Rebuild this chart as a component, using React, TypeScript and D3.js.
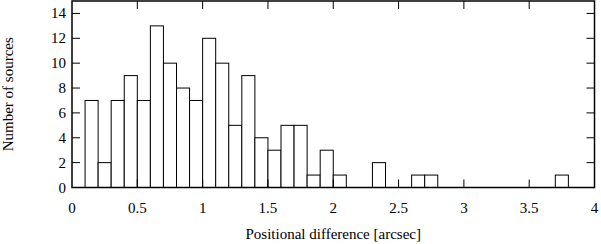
import React, { useEffect, useRef } from "react";
import * as d3 from "d3";

// histogram bins (lower edge, width 0.1 arcsec) and counts
const binStarts = [
  0.1, 0.2, 0.3, 0.4, 0.5, 0.6, 0.7, 0.8, 0.9, 1.0,
  1.1, 1.2, 1.3, 1.4, 1.5, 1.6, 1.7, 1.8, 1.9, 2.0,
  2.3, 2.6, 2.7, 3.7,
];
const counts = [
  7, 2, 7, 9, 7, 13, 10, 8, 7, 12,
  10, 5, 9, 4, 3, 5, 5, 1, 3, 1,
  2, 1, 1, 1,
];
const binWidth = 0.1;
const xTicks = [0, 0.5, 1, 1.5, 2, 2.5, 3, 3.5, 4];
const yTicks = [0, 2, 4, 6, 8, 10, 12, 14];

export default function App() {
  const svgRef = useRef<SVGSVGElement>(null);

  useEffect(() => {
    const svg = d3.select(svgRef.current);
    svg.selectAll("*").remove();

    const left = 72, right = 594.5, top = 1, bottom = 187.5;

    const x = d3.scaleLinear().domain([0, 4]).range([left, right]);
    const y = d3.scaleLinear().domain([0, 15]).range([bottom, top]);

    const data = binStarts.map((b, i) => ({ x0: b, n: counts[i] }));

    svg
      .append("g")
      .selectAll("rect")
      .data(data)
      .enter()
      .append("rect")
      .attr("x", (d) => x(d.x0))
      .attr("y", (d) => y(d.n))
      .attr("width", (d) => x(d.x0 + binWidth) - x(d.x0))
      .attr("height", (d) => y(0) - y(d.n))
      .attr("fill", "white")
      .attr("stroke", "black")
      .attr("stroke-width", 1);

    const tickLen = 8;
    const ticks = svg.append("g").attr("stroke", "black").attr("stroke-width", 1);
    xTicks.forEach((t) => {
      if (t === 0 || t === 4) return;
      ticks.append("line").attr("x1", x(t)).attr("x2", x(t)).attr("y1", bottom).attr("y2", bottom - tickLen);
      ticks.append("line").attr("x1", x(t)).attr("x2", x(t)).attr("y1", top).attr("y2", top + tickLen);
    });
    yTicks.forEach((t) => {
      if (t === 0) return;
      ticks.append("line").attr("x1", left).attr("x2", left + tickLen).attr("y1", y(t)).attr("y2", y(t));
      ticks.append("line").attr("x1", right).attr("x2", right - tickLen).attr("y1", y(t)).attr("y2", y(t));
    });

    svg
      .append("rect")
      .attr("x", left)
      .attr("y", top)
      .attr("width", right - left)
      .attr("height", bottom - top)
      .attr("fill", "none")
      .attr("stroke", "black")
      .attr("stroke-width", 1.5);

    svg
      .append("g")
      .selectAll("text")
      .data(xTicks)
      .enter()
      .append("text")
      .attr("x", (d) => x(d))
      .attr("y", 213)
      .attr("text-anchor", "middle")
      .text((d) => String(d));

    svg
      .append("g")
      .selectAll("text")
      .data(yTicks)
      .enter()
      .append("text")
      .attr("x", 66)
      .attr("y", (d) => y(d) + 5)
      .attr("text-anchor", "end")
      .text((d) => String(d));

    svg
      .append("text")
      .attr("x", (left + right) / 2)
      .attr("y", 239)
      .attr("text-anchor", "middle")
      .text("Positional difference [arcsec]");

    svg
      .append("text")
      .attr("transform", `translate(13,${(top + bottom) / 2}) rotate(-90)`)
      .attr("text-anchor", "middle")
      .text("Number of sources");
  }, []);

  return (
    <svg
      ref={svgRef}
      width={601}
      height={244}
      style={{
        position: "absolute",
        left: 0,
        top: 0,
        background: "white",
        fontFamily: "'Times New Roman', 'Liberation Serif', 'DejaVu Serif', serif",
        fontSize: "15px",
      }}
    />
  );
}
